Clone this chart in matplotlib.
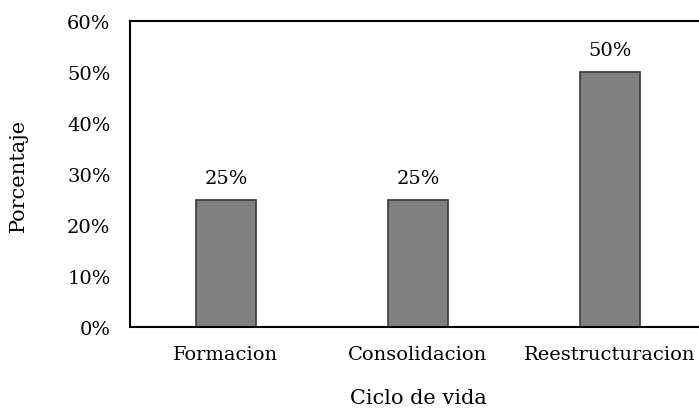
import matplotlib
matplotlib.use("Agg")
import matplotlib.pyplot as plt
from matplotlib.ticker import PercentFormatter

categories = ["Formacion", "Consolidacion", "Reestructuracion"]
values = [0.25, 0.25, 0.50]
y_ticks = [0.0, 0.1, 0.2, 0.3, 0.4, 0.5, 0.6]

plt.rcParams['font.family'] = ['DejaVu Serif']
plt.rcParams['font.size'] = 14

fig = plt.figure(figsize=(6.99, 4.10), dpi=100)
ax = fig.add_axes([130 / 699, 82 / 410, 576 / 699, 306 / 410])

x = range(len(categories))
bars = ax.bar(x, values, width=0.31, color='#808080', edgecolor='#3a3a3a', linewidth=1.2)

for b, v in zip(bars, values):
    ax.annotate("{0:.0%}".format(v), (b.get_x() + b.get_width() / 2, v),
                xytext=(0, 9), textcoords='offset points',
                ha='center', va='bottom', fontsize=14)

ax.set_xlim(-0.5, 2.5)
ax.set_ylim(0, 0.6)
ax.set_yticks(y_ticks)
ax.yaxis.set_major_formatter(PercentFormatter(1.0, decimals=0))
ax.set_xticks(list(x))
ax.set_xticklabels(categories)
ax.tick_params(axis='y', length=0, pad=14)
ax.tick_params(axis='x', length=0, pad=13)

for s in ax.spines.values():
    s.set_linewidth(1.5)
    s.set_color('black')

ax.set_xlabel("Ciclo de vida", fontsize=15, labelpad=18)
ax.set_ylabel("Porcentaje", fontsize=15, labelpad=28)

fig.savefig("out.png", dpi=100)
